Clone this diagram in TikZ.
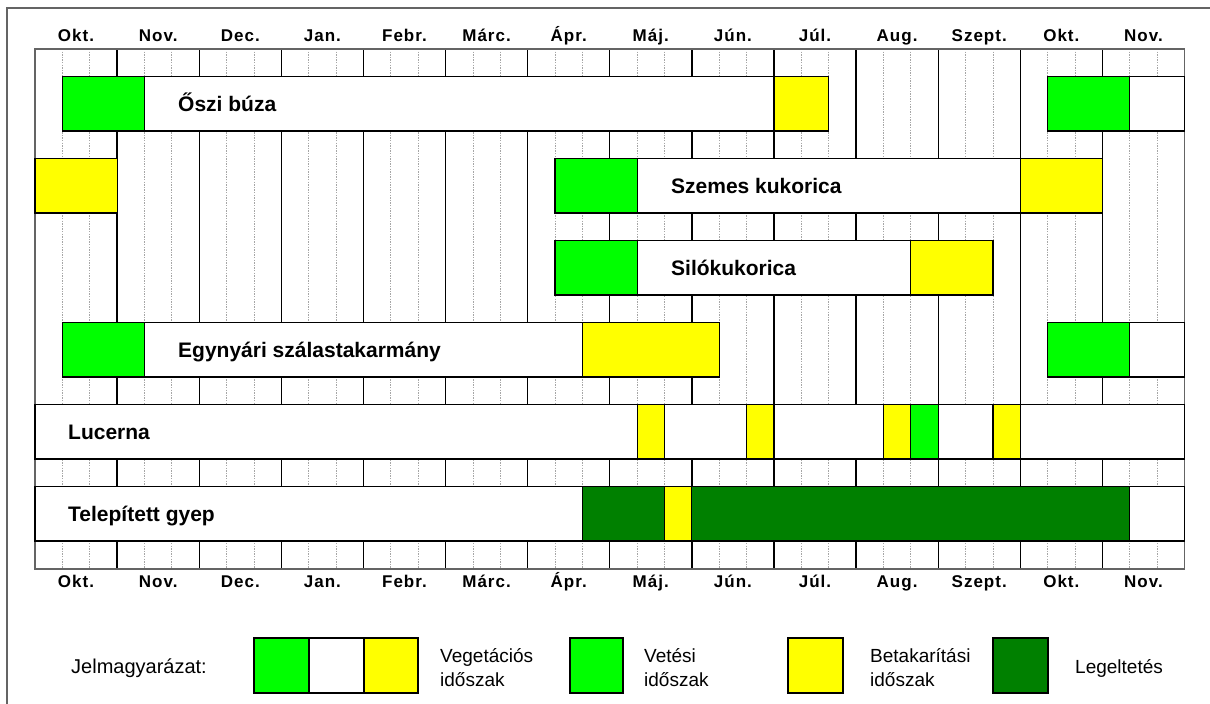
\documentclass[tikz,border=0pt]{standalone}
\usepackage{fontspec}
\setmainfont{Liberation Sans}
\newfontfamily\monthfont{Liberation Sans}[LetterSpace=6]
% decade (third of a month) -> horizontal position
\newcommand\dpos[1]{35+27.369*(#1)}
% one coloured segment of a crop bar: row, from decade, to decade, fill
\newcommand\barseg[4]{\filldraw[segbox, fill=#4] ({\dpos{#2}},{76.33+82*(#1)}) rectangle ({\dpos{#3}},{131+82*(#1)});}
\definecolor{sowgreen}{RGB}{0,255,0}
\definecolor{harvyellow}{RGB}{255,255,0}
\definecolor{grazegreen}{RGB}{0,128,0}
\definecolor{framegray}{RGB}{100,100,100}
\begin{document}
\begin{tikzpicture}[x=1pt,y=-1pt,
  segbox/.style={draw=black, line width=1.2pt},
  monthline/.style={draw=black, line width=1.3pt},
  decline/.style={draw=black!35, line width=0.8pt, dash pattern=on 1.4pt off 1.2pt},
  edgeline/.style={draw=framegray, line width=1.6pt},
  mlabel/.style={inner sep=0pt, anchor=base, font=\monthfont\bfseries\fontsize{17}{20}\selectfont},
  blabel/.style={inner sep=0pt, anchor=base west, font=\bfseries\fontsize{21}{24}\selectfont},
  llabel/.style={inner sep=0pt, anchor=base west, align=left, font=\fontsize{19}{24}\selectfont},
  legbox/.style={draw=black, line width=1.2pt}]
\useasboundingbox (0,0) rectangle (1210,704);
\fill[white] (0,0) rectangle (1210,704);
% outer frame
\draw[framegray, line width=1.4pt] (7,704) -- (7,8) -- (1210,8);

% calendar grid: month lines and dotted decade lines
\foreach \d in {1,...,41} {
  \pgfmathtruncatemacro\rem{mod(\d,3)}
  \ifnum\rem=0
    \draw[monthline] ({\dpos{\d}},49) -- ({\dpos{\d}},569);
  \else
    \draw[decline] ({\dpos{\d}},49) -- ({\dpos{\d}},569);
  \fi
}
\draw[edgeline] ({\dpos{0}},49) rectangle ({\dpos{42}},569);

% month labels, top and bottom
\foreach \m [count=\i from 0] in {Okt.,Nov.,Dec.,Jan.,Febr.,Márc.,Ápr.,Máj.,Jún.,Júl.,Aug.,Szept.,Okt.,Nov.} {
  \node[mlabel] (top\i) at ({35+82.107*(\i+0.5)},41.5) {\m};
  \node[mlabel] (bot\i) at ({35+82.107*(\i+0.5)},587) {\m};
}

% Őszi búza
\barseg{0}{1}{4}{sowgreen}
\barseg{0}{4}{27}{white}
\barseg{0}{27}{29}{harvyellow}
\barseg{0}{37}{40}{sowgreen}
\barseg{0}{40}{42}{white}
\node[blabel] (buza) at (178,111.5) {Őszi búza};

% Szemes kukorica
\barseg{1}{0}{3}{harvyellow}
\barseg{1}{19}{22}{sowgreen}
\barseg{1}{22}{36}{white}
\barseg{1}{36}{39}{harvyellow}
\node[blabel] (szemes) at (671,193.5) {Szemes kukorica};

% Silókukorica
\barseg{2}{19}{22}{sowgreen}
\barseg{2}{22}{32}{white}
\barseg{2}{32}{35}{harvyellow}
\node[blabel] (silo) at (671,275.5) {Silókukorica};

% Egynyári szálastakarmány
\barseg{3}{1}{4}{sowgreen}
\barseg{3}{4}{20}{white}
\barseg{3}{20}{25}{harvyellow}
\barseg{3}{37}{40}{sowgreen}
\barseg{3}{40}{42}{white}
\node[blabel] (egynyari) at (178,357.5) {Egynyári szálastakarmány};

% Lucerna
\barseg{4}{0}{42}{white}
\barseg{4}{22}{23}{harvyellow}
\barseg{4}{26}{27}{harvyellow}
\barseg{4}{31}{32}{harvyellow}
\barseg{4}{32}{33}{sowgreen}
\barseg{4}{35}{36}{harvyellow}
\node[blabel] (lucerna) at (68,439.5) {Lucerna};

% Telepített gyep
\barseg{5}{0}{42}{white}
\barseg{5}{20}{23}{grazegreen}
\barseg{5}{23}{24}{harvyellow}
\barseg{5}{24}{40}{grazegreen}
\node[blabel] (gyep) at (68,521.5) {Telepített gyep};

% legend (two-line texts are placed by the baseline of their last line)
\node[inner sep=0pt, anchor=base west, font=\fontsize{20}{24}\selectfont] (jel) at (71,673) {Jelmagyarázat:};
\filldraw[legbox, fill=sowgreen] (254,638) rectangle (309,693);
\filldraw[legbox, fill=white] (309,638) rectangle (364,693);
\filldraw[legbox, fill=harvyellow] (364,638) rectangle (418,693);
\node[llabel] (veg) at (440,686) {Vegetációs\\időszak};
\filldraw[legbox, fill=sowgreen] (570,638) rectangle (623,693);
\node[llabel] (vet) at (644,686) {Vetési\\időszak};
\filldraw[legbox, fill=harvyellow] (788,638) rectangle (843,693);
\node[llabel] (beta) at (870,686) {Betakarítási\\időszak};
\filldraw[legbox, fill=grazegreen] (993,638) rectangle (1048,693);
\node[llabel] (leg) at (1075,673) {Legeltetés};
\end{tikzpicture}
\end{document}
